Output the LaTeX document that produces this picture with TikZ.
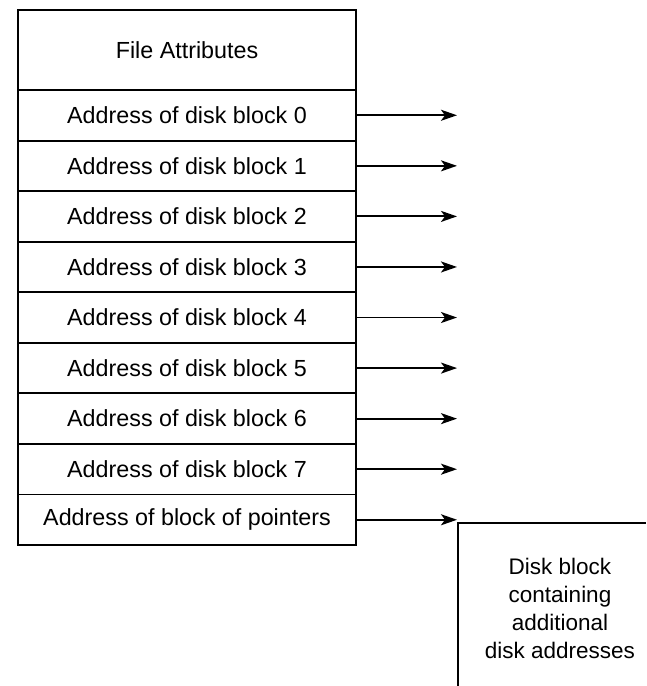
\documentclass[tikz,border=0pt]{standalone}
\usepackage{fontspec}
\setmainfont{Liberation Sans}
\usetikzlibrary{arrows.meta}
\begin{document}
\begin{tikzpicture}[x=1pt,y=-1pt,
  rowbox/.style={draw=black,line width=1.9pt,outer sep=0pt,minimum width=338pt,minimum height=50.56pt,inner sep=0pt,anchor=north west,font=\fontsize{23.3}{27}\selectfont},
  ptr/.style={line width=1.9pt,-{Stealth[length=16pt,width=11pt,inset=4pt]}},
  blk/.style={line width=1.9pt}]
\useasboundingbox (0,0) rectangle (646,686);
\coordinate (tipx) at (457,0);
\node[rowbox,minimum height=80pt] (attr) at (18,10) {File Attributes};
\foreach \i in {0,...,7} {
  \node[rowbox] (r\i) at (18,{90+50.56*\i}) {Address of disk block \i};
  \draw[ptr] (r\i.east) -- (r\i.east -| tipx);
}
\node[rowbox] (r8) at (18,{90+50.56*8}) {Address of block of pointers};
\draw[ptr] (r8.east) -- (r8.east -| tipx);
\coordinate (bl) at (458,686);
\coordinate (tl) at (458,523);
\coordinate (tr) at (646,523);
\draw[blk] (bl) -- (tl) -- (tr);
\node[font=\fontsize{22.5}{28}\selectfont,align=center,anchor=center] (dtxt) at (560,608) {Disk block\\containing\\additional\\disk addresses};
\end{tikzpicture}
\end{document}
